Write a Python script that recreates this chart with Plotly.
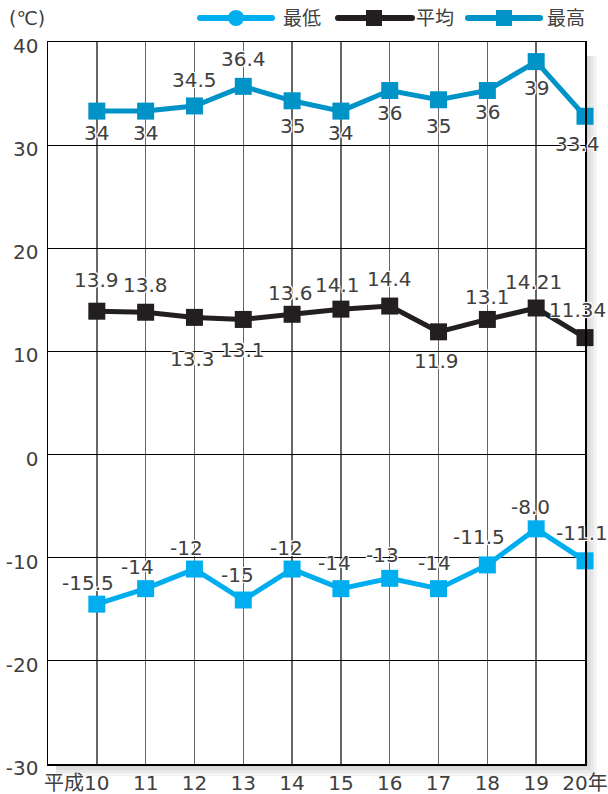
import plotly.graph_objects as go

# ---------------- data ----------------
years = ["10", "11", "12", "13", "14", "15", "16", "17", "18", "19", "20年"]
high_vals = [33.3, 33.3, 33.8, 35.7, 34.3, 33.3, 35.3, 34.4, 35.3, 38.1, 32.8]
avg_vals = [13.9, 13.8, 13.3, 13.1, 13.6, 14.1, 14.4, 11.9, 13.1, 14.21, 11.34]
low_vals = [-14.5, -13.0, -11.1, -14.1, -11.1, -13.0, -12.0, -13.0, -10.7, -7.2, -10.3]
high_labels = ["34", "34", "34.5", "36.4", "35", "34", "36", "35", "36", "39", "33.4"]
avg_labels = ["13.9", "13.8", "13.3", "13.1", "13.6", "14.1", "14.4", "11.9", "13.1", "14.21", "11.34"]
low_labels = ["-15.5", "-14", "-12", "-15", "-12", "-14", "-13", "-14", "-11.5", "-8.0", "-11.1"]
series_names = ["最低", "平均", "最高"]
y_ticks = [-30, -20, -10, 0, 10, 20, 30, 40]
y_tick_labels = ["-30", "-20", "-10", "0", "10", "20", "30", "40"]

# ---------------- style ----------------
W, H = 608, 794
L, R, T, B = 48, 23, 42, 30
PW, PH = W - L - R, H - T - B
FONT = "DejaVu Sans, Noto Sans CJK JP, sans-serif"
TXT = "#404040"
C_LOW, C_AVG, C_HIGH = "#00AEEF", "#231F20", "#0093C8"
HALO = ("-1px -1px 0 #fff, 1px -1px 0 #fff, -1px 1px 0 #fff, 1px 1px 0 #fff, "
        "0 0 3px #fff")

# label offsets (pixels; xshift, yshift)
high_off = [(0, -22), (0, -22), (0, 26), (0, 27), (0, -25), (0, -22), (0, -23),
            (0, -26), (0, -22), (0, -26), (-8, -28)]
avg_off = [(0, 31), (0, 27), (-2, -42), (-1, -31), (-2, 21), (-3, 24), (0, 27),
           (-2, -29), (0, 22), (-3, 26), (-8, 28)]
low_off = [(-9, 21), (-8, 22), (-8, 21), (-6, 25), (-6, 21), (-6, 26), (-7, 23),
           (-4, 26), (-8, 28), (-6, 22), (-3, 28)]

x = list(range(len(years)))

fig = go.Figure()
for vals, color in [(high_vals, C_HIGH), (avg_vals, C_AVG), (low_vals, C_LOW)]:
    fig.add_trace(go.Scatter(
        x=x, y=vals, mode="lines+markers", showlegend=False,
        line=dict(color=color, width=5),
        marker=dict(symbol="square", size=17, color=color),
        cliponaxis=False, hoverinfo="skip"))


def px(xp):
    return (xp - L) / PW


def py(yp):
    return (H - B - yp) / PH


annotations = []
for vals, labels, offs in [(high_vals, high_labels, high_off),
                           (avg_vals, avg_labels, avg_off),
                           (low_vals, low_labels, low_off)]:
    for i, (v, t, (dx, dy)) in enumerate(zip(vals, labels, offs)):
        annotations.append(dict(
            x=i, y=v, xref="x", yref="y", text=t, showarrow=False,
            xshift=dx, yshift=dy,
            font=dict(family=FONT, size=20, color=TXT, shadow=HALO)))

# unit and era prefix
annotations.append(dict(x=px(7), y=py(18), xref="paper", yref="paper",
                        text="(℃)", showarrow=False,
                        xanchor="left", yanchor="middle",
                        font=dict(family=FONT, size=19, color=TXT)))
annotations.append(dict(x=0, y=0, xref="x", yref="paper", text="平成",
                        showarrow=False, xanchor="right", yanchor="top",
                        xshift=-11, yshift=-5,
                        font=dict(family=FONT, size=20, color=TXT)))

# custom legend
shapes = []
legend_items = [
    (series_names[0], C_LOW, "circle", 200, 272, 236, 281),
    (series_names[1], C_AVG, "square", 338, 412, 374, 414),
    (series_names[2], C_HIGH, "square", 468, 540, 504, 545),
]
LY = 18
for name, color, sym, x0, x1, xm, xt in legend_items:
    shapes.append(dict(type="line", xref="paper", yref="paper",
                       x0=px(x0), x1=px(x1), y0=py(LY), y1=py(LY),
                       line=dict(color=color, width=6)))
    for xe in (x0, x1):
        shapes.append(dict(type="circle", xref="paper", yref="paper",
                           xsizemode="pixel", ysizemode="pixel",
                           xanchor=px(xe), yanchor=py(LY),
                           x0=-3, x1=3, y0=-3, y1=3,
                           fillcolor=color, line=dict(width=0)))
    shapes.append(dict(type="circle" if sym == "circle" else "rect",
                       xref="paper", yref="paper",
                       xsizemode="pixel", ysizemode="pixel",
                       xanchor=px(xm), yanchor=py(LY),
                       x0=-8, x1=8, y0=-8, y1=8,
                       fillcolor=color, line=dict(width=0)))
    annotations.append(dict(x=px(xt), y=py(LY), xref="paper", yref="paper",
                            text=name, showarrow=False, xanchor="left",
                            yanchor="middle",
                            font=dict(family=FONT, size=19, color=TXT)))

# drop shadow right and bottom of frame
for k in (3, 6, 9, 12):
    shapes.append(dict(type="rect", xref="paper", yref="paper", layer="below",
                       x0=1, x1=px(L + PW + k), y0=py(T + 14), y1=py(T + PH + k),
                       fillcolor="rgba(0,0,0,0.045)", line=dict(width=0)))
    shapes.append(dict(type="rect", xref="paper", yref="paper", layer="below",
                       x0=px(L + 8), x1=1, y0=0, y1=py(T + PH + k),
                       fillcolor="rgba(0,0,0,0.045)", line=dict(width=0)))

fig.update_layout(
    width=W, height=H,
    margin=dict(l=L, r=R, t=T, b=B, autoexpand=False),
    paper_bgcolor="white", plot_bgcolor="white",
    font=dict(family=FONT, size=20, color=TXT),
    showlegend=False,
    annotations=annotations, shapes=shapes,
    xaxis=dict(range=[-1, len(years) - 1], tickmode="array", tickvals=x,
               ticktext=years, showgrid=True, gridcolor="#666666",
               gridwidth=1.5, zeroline=False, showline=True, mirror=True,
               linecolor="black", linewidth=1.5, ticks="", automargin=False,
               tickfont=dict(family=FONT, size=20, color=TXT)),
    yaxis=dict(range=[-30, 40], tickmode="array", tickvals=y_ticks,
               ticktext=y_tick_labels,
               showgrid=True, gridcolor="black", gridwidth=1,
               zeroline=False, showline=True, mirror=True,
               linecolor="black", linewidth=1.5, ticks="", automargin=False,
               ticklabelstandoff=4, ticklabelshift=4,
               tickfont=dict(family=FONT, size=20, color=TXT)),
)

fig.write_html(
    "out.html",
    config={"displayModeBar": False, "staticPlot": True},
    post_script="document.body.style.margin='0';"
                "document.body.style.overflow='hidden';",
)
